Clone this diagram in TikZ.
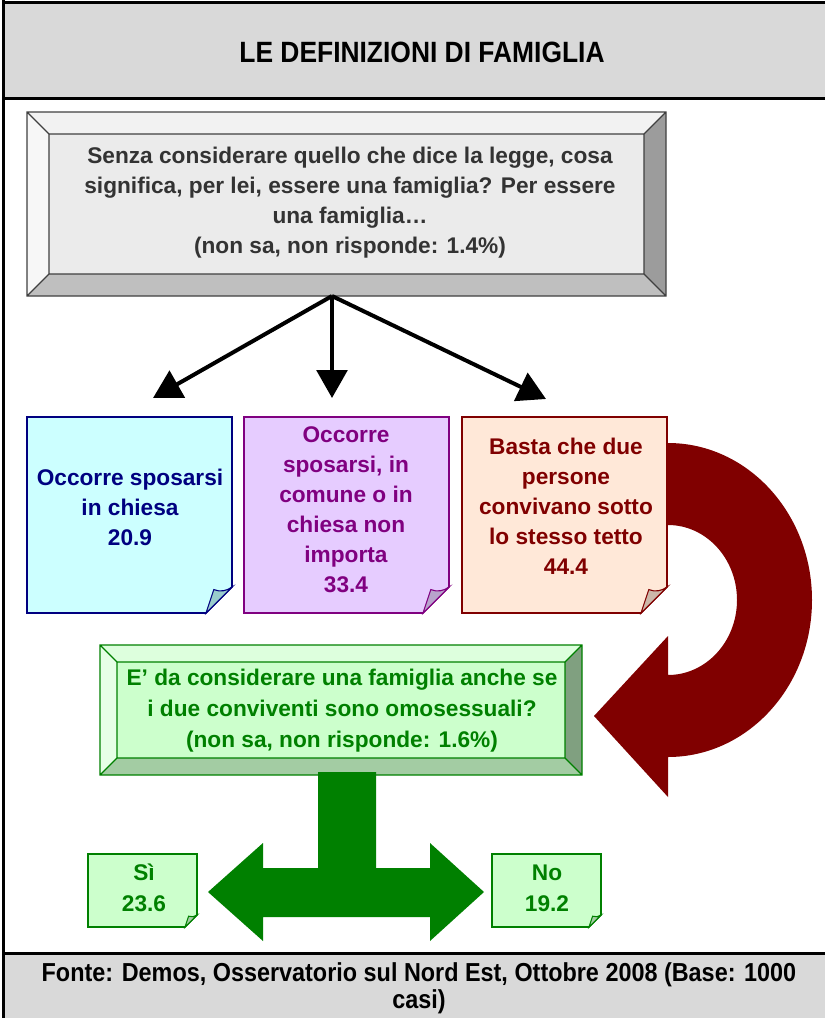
\documentclass[tikz,border=0pt]{standalone}
\usepackage{fontspec}
\setmainfont{Liberation Sans}
\newfontfamily\narrowfont[FakeStretch=0.9]{Liberation Sans}
\usetikzlibrary{arrows.meta}

\definecolor{bandgray}{HTML}{D9D9D9}
\definecolor{textgray}{HTML}{333333}
\definecolor{greyface}{HTML}{EBEBEB}
\definecolor{greytop}{HTML}{F2F2F2}
\definecolor{greyleft}{HTML}{F7F7F7}
\definecolor{greyright}{HTML}{9C9C9C}
\definecolor{greybottom}{HTML}{BFBFBF}
\definecolor{greyedge}{HTML}{404040}
\definecolor{greenface}{HTML}{CCFFCC}
\definecolor{greentop}{HTML}{DDFFDD}
\definecolor{greenleft}{HTML}{E6FFE6}
\definecolor{greenright}{HTML}{80A080}
\definecolor{greenbottom}{HTML}{A3CCA3}
\definecolor{greenedge}{HTML}{008000}
\definecolor{navyblue}{HTML}{000080}
\definecolor{cyanfill}{HTML}{CCFFFF}
\definecolor{cyanflap}{HTML}{99CCCC}
\definecolor{plumedge}{HTML}{800080}
\definecolor{lilacfill}{HTML}{E6CCFF}
\definecolor{lilacflap}{HTML}{B8A3CC}
\definecolor{darkred}{HTML}{800000}
\definecolor{peachfill}{HTML}{FFE8D8}
\definecolor{peachflap}{HTML}{CCB8AA}

% bevelled box: left, top, right, bottom, depth, palette
\newcommand{\bevelbox}[6]{%
  \fill[#6top] (#1,#2) -- (#3,#2) -- (#3-#5,#2+#5) -- (#1+#5,#2+#5) -- cycle;
  \fill[#6left] (#1,#2) -- (#1+#5,#2+#5) -- (#1+#5,#4-#5) -- (#1,#4) -- cycle;
  \fill[#6right] (#3,#2) -- (#3,#4) -- (#3-#5,#4-#5) -- (#3-#5,#2+#5) -- cycle;
  \fill[#6bottom] (#1,#4) -- (#3,#4) -- (#3-#5,#4-#5) -- (#1+#5,#4-#5) -- cycle;
  \fill[#6face] (#1+#5,#2+#5) rectangle (#3-#5,#4-#5);
  \draw[#6edge, line width=1pt] (#1,#2) rectangle (#3,#4)
    (#1+#5,#2+#5) rectangle (#3-#5,#4-#5)
    (#1,#2) -- (#1+#5,#2+#5) (#3,#2) -- (#3-#5,#2+#5)
    (#3,#4) -- (#3-#5,#4-#5) (#1,#4) -- (#1+#5,#4-#5);}

% note with turned corner: left, top, right, bottom, fold, edge, fill, flap
\newcommand{\notepaper}[8]{%
  \filldraw[fill=#7, draw=#6, line width=1.2pt]
    (#1,#2) -- (#3,#2) -- (#3,#4-#5) -- (#3-#5,#4) -- (#1,#4) -- cycle;
  \filldraw[fill=#8, draw=#6, line width=0.8pt]
    (#3-#5,#4) -- (#3-0.7*#5,#4-0.9*#5)
    .. controls (#3-0.45*#5,#4-0.8*#5) and (#3-0.2*#5,#4-0.85*#5) .. (#3,#4-#5) -- cycle;}

\begin{document}
\begin{tikzpicture}[x=0.75pt, y=-0.75pt,
    txt/.style={font=\bfseries\fontsize{17}{22.5}\selectfont, align=center, inner sep=0pt},
    link/.style={-{Triangle[length=21pt,width=23pt]}, line width=3pt}]
    \useasboundingbox (0,0) rectangle (825,1018);

    % frame, title and source
    \fill[bandgray] (3,2) rectangle (825,98);
    \fill[bandgray] (3,953) rectangle (825,1018);
    \draw[line width=2.25pt] (3,0) -- (3,1018);
    \draw[line width=2.25pt] (3,2) -- (825,2) (3,98) -- (825,98) (3,953) -- (825,953);
    \node[font=\narrowfont\bfseries\fontsize{22}{26}\selectfont] (title) at (422,52) {LE DEFINIZIONI DI FAMIGLIA};
    \node[font=\narrowfont\bfseries\fontsize{19.5}{20.5}\selectfont, align=center, inner sep=0pt] (source) at (419,988)
        {Fonte: Demos, Osservatorio sul Nord Est, Ottobre 2008 (Base: 1000\\casi)};

    % first question
    \bevelbox{27}{112}{666}{296}{22}{grey}
    \node[txt, text=textgray] (question) at (350,203)
        {Senza considerare quello che dice la legge, cosa\\significa, per lei, essere una famiglia? Per essere\\una famiglia…\\(non sa, non risponde: 1.4\%)};

    \coordinate (fork) at (332,296);
    \coordinate (toA) at (153,398);
    \coordinate (toB) at (332,398);
    \coordinate (toC) at (546,399);
    \draw[link] (fork) -- (toA);
    \draw[link] (fork) -- (toB);
    \draw[link] (fork) -- (toC);

    % answers
    \notepaper{27}{417}{232}{613}{26}{navyblue}{cyanfill}{cyanflap}
    \notepaper{244}{417}{449}{613}{26}{plumedge}{lilacfill}{lilacflap}
    \fill[darkred] (668,443) arc[start angle=-90, end angle=90, x radius=144, y radius=157]
        -- (668,797) -- (594,716) -- (668,636) -- (668,675)
        arc[start angle=90, end angle=-90, x radius=69, y radius=75] -- cycle;
    \notepaper{462}{417}{667}{613}{26}{darkred}{peachfill}{peachflap}
    \node[txt, text=navyblue] (church) at (130,507) {Occorre sposarsi\\in chiesa\\20.9};
    \node[txt, text=plumedge] (either) at (346,510) {Occorre\\sposarsi, in\\comune o in\\chiesa non\\importa\\33.4};
    \node[txt, text=darkred] (cohabit) at (566,506) {Basta che due\\persone\\convivano sotto\\lo stesso tetto\\44.4};

    % second question
    \bevelbox{100}{645}{582}{775}{17}{green}
    \node[txt, text=greenedge, font=\bfseries\fontsize{17}{23.25}\selectfont] (samesex) at (342,711)
        {E' da considerare una famiglia anche se\\i due conviventi sono omosessuali?\\(non sa, non risponde: 1.6\%)};
    \fill[greenedge] (318,772) -- (376,772) -- (376,868) -- (430,868) -- (430,843) -- (484,892)
        -- (430,941) -- (430,917) -- (263,917) -- (263,941) -- (208,892) -- (263,843)
        -- (263,868) -- (318,868) -- cycle;
    \notepaper{88}{854}{197}{927}{12}{greenedge}{greenface}{greenbottom}
    \notepaper{492}{854}{601}{927}{12}{greenedge}{greenface}{greenbottom}
    \node[txt, text=greenedge, font=\bfseries\fontsize{17}{23.25}\selectfont] (yes) at (144,888) {Sì\\23.6};
    \node[txt, text=greenedge, font=\bfseries\fontsize{17}{23.25}\selectfont] (no) at (547,888) {No\\19.2};
\end{tikzpicture}
\end{document}
